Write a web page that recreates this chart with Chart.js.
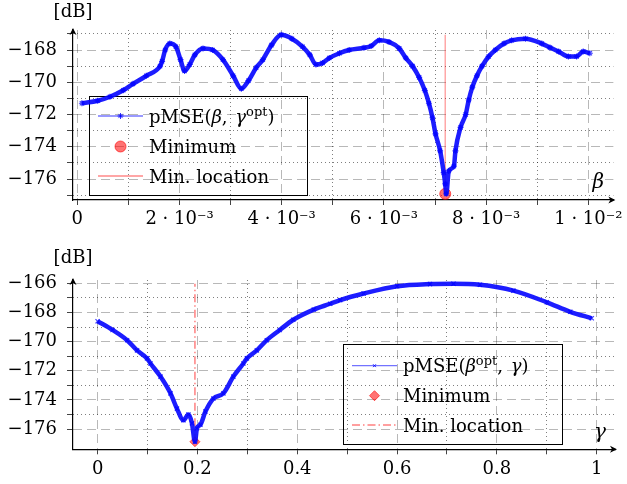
<!DOCTYPE html>
<html>
<head>
<meta charset="utf-8">
<script src="https://cdn.jsdelivr.net/npm/chart.js"></script>
<style>
  body { margin: 0; background: #fff; }
  .plot { position: absolute; left: 0; width: 627px; height: 242px; }
</style>
</head>
<body>
<div class="plot" style="top:0"><canvas id="betaPlot" width="627" height="242"></canvas></div>
<div class="plot" style="top:242px"><canvas id="gammaPlot" width="627" height="242"></canvas></div>
<script>
// beta sweep, beta given in units of 1e-3
const BETA = [0.09, 0.4, 0.64, 0.9, 1.09, 1.35, 1.62, 1.66, 1.72, 1.81, 1.93, 2.02, 2.1, 2.2, 2.3, 2.46,
  2.65, 2.85, 3.05, 3.21, 3.35, 3.5, 3.63, 3.8, 3.99, 4.2, 4.41, 4.55, 4.67, 4.8, 4.93, 5.13, 5.32,
  5.61, 5.75, 5.91, 6.1, 6.3, 6.43, 6.56, 6.69, 6.8, 6.88, 6.95, 7.01, 7.1, 7.17, 7.2, 7.22, 7.27,
  7.37, 7.4, 7.5, 7.6, 7.66, 7.73, 7.82, 7.92, 8.05, 8.18, 8.35, 8.5, 8.77, 9.09, 9.25, 9.42, 9.61,
  9.77, 9.9, 10.03];
const PMSE_BETA = [-171.3, -171.15, -170.9, -170.5, -170.1, -169.6, -169.0, -168.7, -168.0, -167.6,
  -167.8, -168.6, -169.3, -168.9, -168.3, -167.9, -168.0, -168.6, -169.6, -170.4, -169.9, -169.1,
  -168.6, -167.7, -167.06, -167.3, -167.8, -168.3, -168.9, -168.8, -168.5, -168.2, -168.0, -167.86,
  -167.75, -167.4, -167.5, -167.9, -168.5, -169.0, -169.7, -170.5, -171.3, -172.2, -173.2, -174.25,
  -175.6, -176.3, -176.92, -175.5, -175.2, -174.25, -172.8, -172.0, -171.1, -170.3, -169.6, -169.0,
  -168.4, -168.0, -167.6, -167.4, -167.3, -167.6, -167.85, -168.1, -168.4, -168.4, -168.1, -168.2];
const BETA_MIN = [7.2];
const PMSE_BETA_MIN = [-176.92];

// gamma sweep
const GAMMA = [0, 0.03, 0.059, 0.079, 0.099, 0.106, 0.126, 0.146, 0.159, 0.172, 0.182, 0.189, 0.195,
  0.199, 0.206, 0.216, 0.232, 0.252, 0.272, 0.292, 0.299, 0.319, 0.339, 0.365, 0.392, 0.433, 0.466,
  0.486, 0.533, 0.6, 0.666, 0.713, 0.766, 0.833, 0.9, 0.947, 0.99];
const PMSE_GAMMA = [-168.6, -169.2, -169.9, -170.6, -171.15, -171.5, -172.4, -173.55, -174.6, -175.4,
  -175.0, -175.6, -176.87, -175.95, -175.7, -174.8, -173.9, -173.55, -172.4, -171.5, -171.15, -170.6,
  -169.9, -169.2, -168.5, -167.8, -167.4, -167.15, -166.7, -166.2, -166.05, -166.03, -166.1, -166.5,
  -167.3, -167.95, -168.4];
const GAMMA_MIN = [0.195];
const PMSE_GAMMA_MIN = [-176.87];

// ticks
const BETA_TICKS = [0, 2e-3, 4e-3, 6e-3, 8e-3, 1e-2];
const BETA_TICK_LABELS = ['0', '2 · 10⁻³', '4 · 10⁻³', '6 · 10⁻³', '8 · 10⁻³', '1 · 10⁻²'];
const BETA_MINOR = [1e-3, 3e-3, 5e-3, 7e-3, 9e-3];
const TOP_DB_TICKS = [-176, -174, -172, -170, -168];
const TOP_DB_MINOR = [-177, -175, -173, -171, -169, -167];
const GAMMA_TICKS = [0, 0.2, 0.4, 0.6, 0.8, 1];
const GAMMA_TICK_LABELS = ['0', '0.2', '0.4', '0.6', '0.8', '1'];
const GAMMA_MINOR = [0.1, 0.3, 0.5, 0.7, 0.9];
const BOTTOM_DB_TICKS = [-176, -174, -172, -170, -168, -166];
const BOTTOM_DB_MINOR = [-175, -173, -171, -169, -167];

const SERIF = '"DejaVu Serif", serif';

const minusLabel = v => (v < 0 ? '−' + Math.abs(v) : String(v));

function gridScale(axis, min, max, ticks, dash, color) {
  return {
    type: 'linear', axis, position: axis === 'x' ? 'bottom' : 'left', min, max,
    afterBuildTicks: s => { s.ticks = ticks.map(v => ({ value: v })); },
    afterFit: s => { if (axis === 'x') s.height = 0; else s.width = 0; },
    ticks: { display: false },
    grid: { drawTicks: false, color, lineWidth: 1 },
    border: { display: false, dash },
  };
}

function makeScales(o) {
  const font = { family: SERIF, size: 18 };
  const allX = o.xTicks.concat(o.xMinor).sort((a, b) => a - b);
  const allY = o.yTicks.concat(o.yMinor).sort((a, b) => a - b);
  return {
    x: {
      type: 'linear', min: o.xMin, max: o.xMax,
      afterBuildTicks: s => { s.ticks = allX.map(v => ({ value: v })); },
      afterFit: s => { s.height = o.xHeight; },
      ticks: {
        autoSkip: false, maxRotation: 0, minRotation: 0, padding: 4, color: '#000', font,
        callback: v => { const i = o.xTicks.indexOf(v); return i < 0 ? '' : o.xLabels[i]; },
      },
      grid: { drawOnChartArea: false, tickLength: 5, color: '#444', tickColor: '#444' },
      border: { color: '#000', width: 1.2 },
    },
    xMajor: gridScale('x', o.xMin, o.xMax, o.xTicks, [9, 5], 'rgba(0,0,0,0.28)'),
    xMinor: gridScale('x', o.xMin, o.xMax, o.xMinor, [1, 3], 'rgba(0,0,0,0.5)'),
    y: {
      type: 'linear', min: o.yMin, max: o.yMax,
      afterBuildTicks: s => { s.ticks = allY.map(v => ({ value: v })); },
      afterFit: s => { s.width = o.yWidth; },
      ticks: {
        autoSkip: false, padding: 10, color: '#000', font,
        callback: v => (o.yTicks.indexOf(v) < 0 ? '' : minusLabel(v)),
      },
      grid: { drawOnChartArea: false, tickLength: 6, color: '#444', tickColor: '#444' },
      border: { color: '#000', width: 1.2 },
    },
    yMajor: gridScale('y', o.yMin, o.yMax, o.yTicks, [9, 5], 'rgba(0,0,0,0.28)'),
    yMinor: gridScale('y', o.yMin, o.yMax, o.yMinor, [1, 3], 'rgba(0,0,0,0.5)'),
  };
}

// arrows at the axis ends plus the axis names
const axisDecor = {
  id: 'axisDecor',
  afterDraw(chart, args, opts) {
    const { ctx, chartArea: a } = chart;
    ctx.save();
    ctx.fillStyle = '#000';
    ctx.beginPath();
    ctx.moveTo(a.left, a.top - 2);
    ctx.lineTo(a.left - 3.5, a.top + 5);
    ctx.lineTo(a.left, a.top + 3);
    ctx.lineTo(a.left + 3.5, a.top + 5);
    ctx.closePath();
    ctx.fill();
    ctx.beginPath();
    ctx.moveTo(a.right + 2, a.bottom);
    ctx.lineTo(a.right - 5, a.bottom - 3.5);
    ctx.lineTo(a.right - 3, a.bottom);
    ctx.lineTo(a.right - 5, a.bottom + 3.5);
    ctx.closePath();
    ctx.fill();
    ctx.textAlign = 'center';
    ctx.textBaseline = 'middle';
    ctx.font = '18px ' + SERIF;
    ctx.fillText(opts.yName, a.left, opts.yNameY);
    ctx.font = 'italic 20px ' + SERIF;
    ctx.fillText(opts.xName, a.right - 15, a.bottom - 17);
    ctx.restore();
  },
};

function drawRich(ctx, text, x, y) {
  const parts = text.match(/\^\w+|[βγ]|[^βγ^]+/g);
  ctx.textAlign = 'left';
  ctx.textBaseline = 'alphabetic';
  const base = y + 6.5;
  parts.forEach(p => {
    let dy = 0;
    if (p[0] === '^') { ctx.font = '13px ' + SERIF; p = p.slice(1); dy = -7; }
    else if (/[βγ]/.test(p)) { ctx.font = 'italic 18px ' + SERIF; }
    else { ctx.font = '18px ' + SERIF; }
    ctx.fillText(p, x, base + dy);
    x += ctx.measureText(p).width + (p === ', ' ? 2 : 0);
  });
}

// legend box drawn inside the plot, under the curves
const boxLegend = {
  id: 'boxLegend',
  beforeDatasetsDraw(chart, args, opts) {
    const ctx = chart.ctx;
    const [x0, y0, x1, y1] = opts.box;
    const [s0, s1] = opts.sample;
    const mid = (s0 + s1) / 2;
    ctx.save();
    ctx.strokeStyle = '#000';
    ctx.lineWidth = 1;
    ctx.strokeRect(x0 + 0.5, y0 + 0.5, x1 - x0, y1 - y0);
    chart.data.datasets.forEach((ds, i) => {
      const y = opts.rows[i];
      const L = ds.legendSymbol;
      if (L.line) {
        ctx.save();
        ctx.strokeStyle = L.line.color;
        ctx.lineWidth = L.line.width;
        ctx.setLineDash(L.line.dash || []);
        ctx.beginPath();
        ctx.moveTo(s0, y);
        ctx.lineTo(s1, y);
        ctx.stroke();
        ctx.restore();
      }
      if (L.point) {
        ctx.save();
        ctx.fillStyle = L.point.fill || 'transparent';
        ctx.strokeStyle = L.point.color;
        Chart.helpers.drawPoint(ctx, {
          pointStyle: L.point.style, radius: L.point.radius, borderWidth: L.point.width || 1, rotation: 0,
        }, mid, y);
        ctx.restore();
      }
      ctx.fillStyle = '#000';
      drawRich(ctx, ds.label, opts.textX, y);
    });
    ctx.restore();
  },
};

const common = {
  responsive: false,
  animation: false,
  events: [],
};

new Chart(document.getElementById('betaPlot'), {
  type: 'line',
  data: {
    datasets: [
      {
        label: 'pMSE(β, γ^opt)',
        data: BETA.map((b, i) => ({ x: b * 1e-3, y: PMSE_BETA[i] })),
        borderColor: 'rgba(10,10,255,0.92)', borderWidth: 4.5,
        cubicInterpolationMode: 'monotone',
        pointStyle: 'star', pointRadius: 3, pointBorderWidth: 1.2,
        pointBorderColor: 'rgba(0,0,255,0.75)', pointBackgroundColor: 'rgba(0,0,255,0.75)',
        legendSymbol: { line: { color: 'rgba(0,0,255,0.4)', width: 2 }, point: { style: 'star', radius: 3, color: 'rgba(0,0,255,0.8)', width: 1 } },
      },
      {
        label: 'Minimum',
        data: BETA_MIN.map((b, i) => ({ x: b * 1e-3, y: PMSE_BETA_MIN[i] })),
        showLine: false,
        pointStyle: 'circle', pointRadius: 5.5, pointBorderWidth: 1,
        pointBackgroundColor: 'rgba(255,0,0,0.55)', pointBorderColor: 'rgba(255,0,0,0.6)',
        legendSymbol: { point: { style: 'circle', radius: 5.5, fill: 'rgba(255,0,0,0.55)', color: 'rgba(255,0,0,0.6)' } },
      },
      {
        label: 'Min. location',
        data: [{ x: BETA_MIN[0] * 1e-3, y: Math.min(...PMSE_BETA) }, { x: BETA_MIN[0] * 1e-3, y: Math.max(...PMSE_BETA) }],
        borderColor: 'rgba(255,0,0,0.35)', borderWidth: 1.5, pointRadius: 0,
        legendSymbol: { line: { color: 'rgba(255,0,0,0.35)', width: 2 } },
      },
    ],
  },
  options: {
    ...common,
    layout: { padding: { top: 30, right: 12, left: 0, bottom: 0 } },
    scales: makeScales({
      xMin: -0.084e-3, xMax: 10.49e-3, xTicks: BETA_TICKS, xMinor: BETA_MINOR, xLabels: BETA_TICK_LABELS,
      yMin: -177.3, yMax: -166.76, yTicks: TOP_DB_TICKS, yMinor: TOP_DB_MINOR,
      xHeight: 42, yWidth: 73,
    }),
    plugins: {
      legend: { display: false },
      tooltip: { enabled: false },
      axisDecor: { yName: '[dB]', yNameY: 12, xName: 'β' },
      boxLegend: { box: [89, 96, 307, 195], rows: [116, 146.5, 176], sample: [98, 143], textX: 149 },
    },
  },
  plugins: [axisDecor, boxLegend],
});

new Chart(document.getElementById('gammaPlot'), {
  type: 'line',
  data: {
    datasets: [
      {
        label: 'pMSE(β^opt, γ)',
        data: GAMMA.map((g, i) => ({ x: g, y: PMSE_GAMMA[i] })),
        borderColor: 'rgba(10,10,255,0.92)', borderWidth: 4.5,
        cubicInterpolationMode: 'monotone',
        pointStyle: 'crossRot', pointRadius: 3, pointBorderWidth: 1.2,
        pointBorderColor: 'rgba(0,0,255,0.75)',
        legendSymbol: { line: { color: 'rgba(0,0,255,0.55)', width: 1.2 }, point: { style: 'crossRot', radius: 2, color: 'rgba(0,0,255,0.9)', width: 1 } },
      },
      {
        label: 'Minimum',
        data: GAMMA_MIN.map((g, i) => ({ x: g, y: PMSE_GAMMA_MIN[i] })),
        showLine: false,
        pointStyle: 'rectRot', pointRadius: 5, pointBorderWidth: 1,
        pointBackgroundColor: 'rgba(255,0,0,0.55)', pointBorderColor: 'rgba(255,0,0,0.6)',
        legendSymbol: { point: { style: 'rectRot', radius: 5, fill: 'rgba(255,0,0,0.55)', color: 'rgba(255,0,0,0.6)' } },
      },
      {
        label: 'Min. location',
        data: [{ x: GAMMA_MIN[0], y: Math.min(...PMSE_GAMMA) }, { x: GAMMA_MIN[0], y: Math.max(...PMSE_GAMMA) }],
        borderColor: 'rgba(255,0,0,0.5)', borderWidth: 1.5, borderDash: [8, 3, 1.5, 3], pointRadius: 0,
        legendSymbol: { line: { color: 'rgba(255,0,0,0.5)', width: 1.5, dash: [8, 3, 1.5, 3] } },
      },
    ],
  },
  options: {
    ...common,
    layout: { padding: { top: 38, right: 12, left: 0, bottom: 0 } },
    scales: makeScales({
      xMin: -0.0493, xMax: 1.0366, xTicks: GAMMA_TICKS, xMinor: GAMMA_MINOR, xLabels: GAMMA_TICK_LABELS,
      yMin: -177.39, yMax: -165.77, yTicks: BOTTOM_DB_TICKS, yMinor: BOTTOM_DB_MINOR,
      xHeight: 34.7, yWidth: 73,
    }),
    plugins: {
      legend: { display: false },
      tooltip: { enabled: false },
      axisDecor: { yName: '[dB]', yNameY: 16, xName: 'γ' },
      boxLegend: { box: [343, 102, 562, 202], rows: [123.7, 153.7, 183], sample: [352, 397], textX: 403 },
    },
  },
  plugins: [axisDecor, boxLegend],
});
</script>
</body>
</html>
